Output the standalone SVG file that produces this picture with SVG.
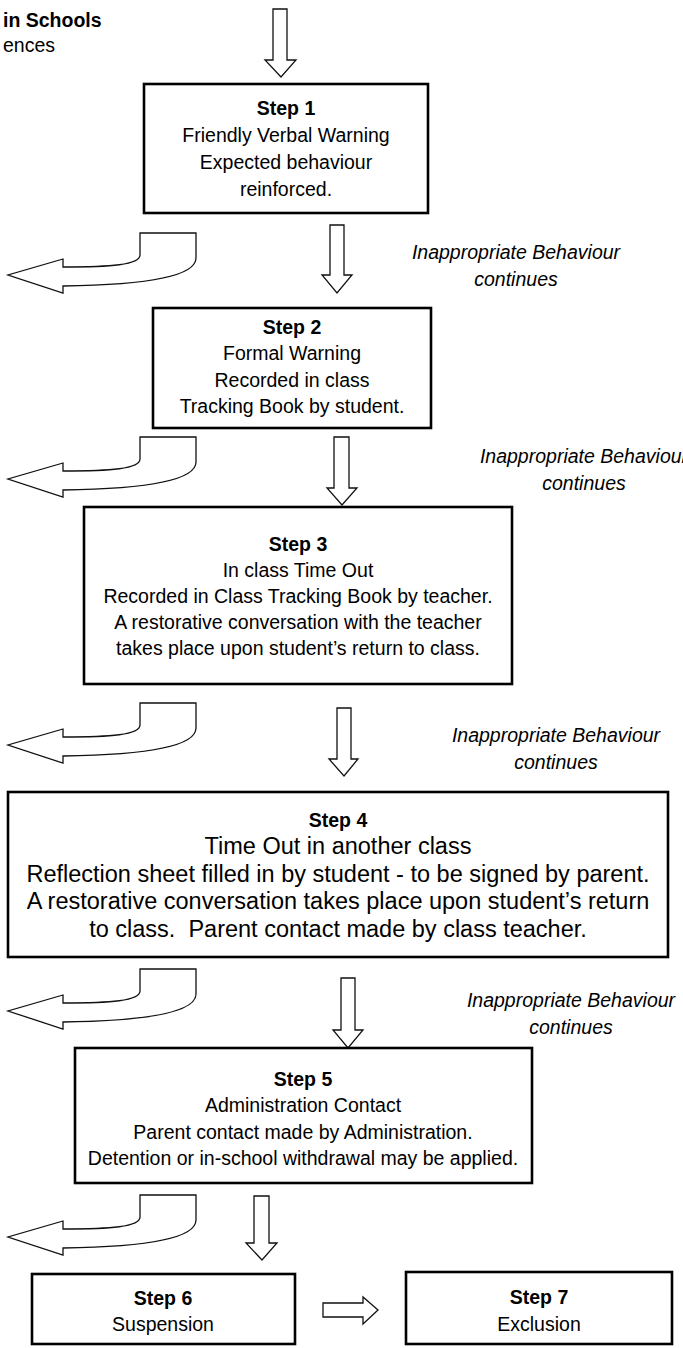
<svg xmlns="http://www.w3.org/2000/svg" width="683" height="1348" viewBox="0 0 683 1348">
<defs>
<style>
.box{fill:#fff;stroke:#000;stroke-width:2.6}
.arr{fill:#fff;stroke:#111;stroke-width:1.3;stroke-linejoin:miter}
text{font-family:"Liberation Sans",Arial,sans-serif;fill:#000;font-size:19.5px;text-anchor:middle}
.t{font-weight:bold}
.lab{font-style:italic}
.big{font-size:23.5px}
.title{text-anchor:start}
</style>
<path id="curv" d="M140,233 L196,233 L196,258 C196,278 135,285 63,286 L63,293 L8,275 L63,259 L63,267 C110,267 140,265 140,255 Z"/>
</defs>
<rect width="683" height="1348" fill="#fff"/>
<g id="title">
<text class="title t" x="3" y="27">in Schools</text>
<text class="title" x="3" y="52">ences</text>
</g>
<g id="connectors">
<path class="arr" d="M273,9 H287 V60 H296 L281,77 L265,60 H273 Z"/>
<path class="arr" d="M330,225 H344 V275 H352 L337,293 L322,275 H330 Z"/>
<path class="arr" d="M334,437 H349 V488 H357 L342,505 L327,488 H334 Z"/>
<path class="arr" d="M337,708 H351 V759 H358 L344,776 L329,759 H337 Z"/>
<path class="arr" d="M341,978 H355 V1030 H363 L348,1048 L333,1030 H341 Z"/>
<path class="arr" d="M254,1196 H269 V1243 H277 L262,1260 L246,1243 H254 Z"/>
<path class="arr" d="M323,1303 H363 V1297 L378,1310 L363,1324 V1317 H323 Z"/>
<use href="#curv" class="arr"/>
<use href="#curv" class="arr" transform="translate(0,204)"/>
<use href="#curv" class="arr" transform="translate(0,470)"/>
<use href="#curv" class="arr" transform="translate(0,736)"/>
<use href="#curv" class="arr" transform="translate(0,962)"/>
</g>
<g id="labels">
<text class="lab" x="516" y="259">Inappropriate Behaviour</text>
<text class="lab" x="516" y="286">continues</text>
<text class="lab" x="584" y="463">Inappropriate Behaviour</text>
<text class="lab" x="584" y="490">continues</text>
<text class="lab" x="556" y="742">Inappropriate Behaviour</text>
<text class="lab" x="556" y="769">continues</text>
<text class="lab" x="571" y="1007">Inappropriate Behaviour</text>
<text class="lab" x="571" y="1034">continues</text>
</g>
<g id="step1">
<rect class="box" x="144" y="84" width="284" height="129"/>
<text class="t" x="286" y="115">Step 1</text>
<text x="286" y="142">Friendly Verbal Warning</text>
<text x="286" y="169">Expected behaviour</text>
<text x="286" y="196">reinforced.</text>
</g>
<g id="step2">
<rect class="box" x="153" y="308" width="278" height="120"/>
<text class="t" x="292" y="334">Step 2</text>
<text x="292" y="360">Formal Warning</text>
<text x="292" y="387">Recorded in class</text>
<text x="292" y="413">Tracking Book by student.</text>
</g>
<g id="step3">
<rect class="box" x="84" y="507" width="428" height="177"/>
<text class="t" x="298" y="551">Step 3</text>
<text x="298" y="577">In class Time Out</text>
<text x="298" y="603">Recorded in Class Tracking Book by teacher.</text>
<text x="298" y="629">A restorative conversation with the teacher</text>
<text x="298" y="655">takes place upon student’s return to class.</text>
</g>
<g id="step4">
<rect class="box" x="8" y="792" width="660" height="165"/>
<text class="t" x="338" y="827">Step 4</text>
<text class="big" x="338" y="854">Time Out in another class</text>
<text class="big" x="338" y="882">Reflection sheet filled in by student - to be signed by parent.</text>
<text class="big" x="338" y="909">A restorative conversation takes place upon student’s return</text>
<text class="big" x="338" y="937">to class.&#160; Parent contact made by class teacher.</text>
</g>
<g id="step5">
<rect class="box" x="75" y="1048" width="457" height="135"/>
<text class="t" x="303" y="1086">Step 5</text>
<text x="303" y="1112">Administration Contact</text>
<text x="303" y="1139">Parent contact made by Administration.</text>
<text x="303" y="1165">Detention or in-school withdrawal may be applied.</text>
</g>
<g id="step6">
<rect class="box" x="32" y="1274" width="263" height="70"/>
<text class="t" x="163" y="1305">Step 6</text>
<text x="163" y="1331">Suspension</text>
</g>
<g id="step7">
<rect class="box" x="406" y="1272" width="266" height="72"/>
<text class="t" x="539" y="1304">Step 7</text>
<text x="539" y="1331">Exclusion</text>
</g>
</svg>
